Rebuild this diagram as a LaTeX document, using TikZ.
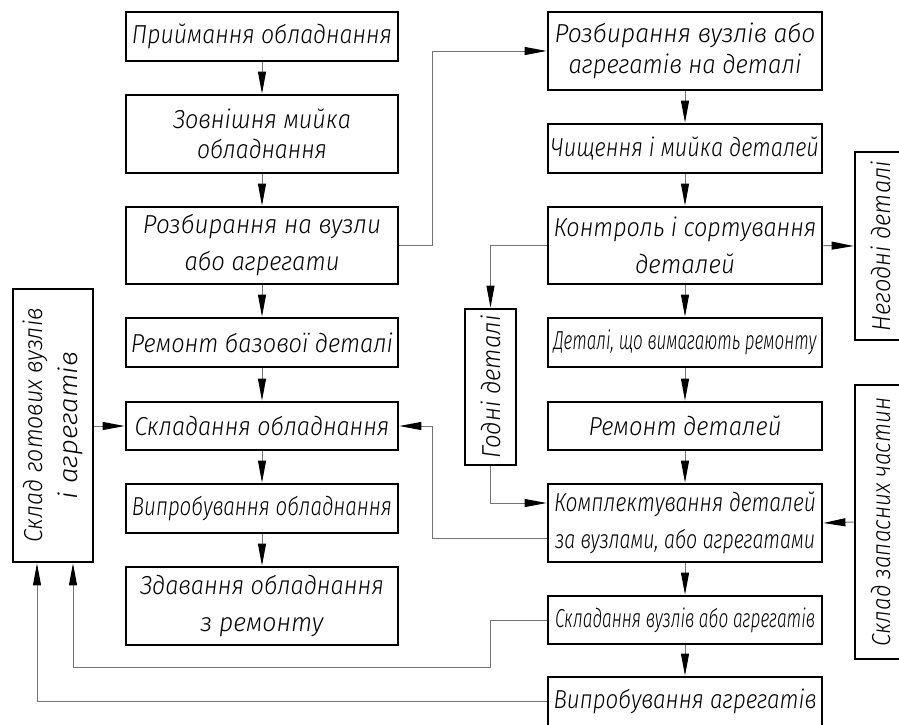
\documentclass[tikz,border=0pt]{standalone}
\usepackage{fontspec}
\usepackage{graphicx}
\newfontfamily\gost{Fira Sans Light Italic}
\usetikzlibrary{arrows.meta}
\newcommand\tw[2]{\resizebox{#1pt}{\height}{#2}}
\begin{document}
\begin{tikzpicture}[x=1pt,y=-1pt,
  box/.style={draw=black, line width=2.8pt, inner sep=0pt, align=center,
    font=\gost\fontsize{26}{37}\selectfont, minimum height=49pt},
  lbox/.style={box, minimum width=272pt},
  rbox/.style={box, minimum width=274pt},
  conn/.style={draw=black!55, line width=1pt, -{Triangle[length=22pt,width=8pt,color=black]}}]
\useasboundingbox (0,0) rectangle (899,724);
\clip (0,0) rectangle (899,724);
% left column
\node[lbox] (L1) at (262,36.5) {\tw{260}{Приймання обладнання}};
\node[lbox, minimum height=78pt, font=\gost\fontsize{26}{30}\selectfont] (L2) at (262,134) {\tw{178}{Зовнішня мийка}\\\tw{130}{обладнання}};
\node[lbox, minimum height=77pt] (L3) at (262,245.5) {\tw{238}{Розбирання на вузли}\\\tw{155}{або агрегати}};
\node[lbox] (L4) at (262,342.5) {\tw{262}{Ремонт базової деталі}};
\node[lbox, minimum height=48pt] (L5) at (262,426) {\tw{255}{Складання обладнання}};
\node[lbox] (L6) at (262,508.5) {\tw{260}{Випробування обладнання}};
\node[lbox, minimum height=78pt] (L7) at (262,606) {\tw{244}{Здавання обладнання}\\\tw{123}{з ремонту}};
% right column
\node[rbox, minimum height=78pt, font=\gost\fontsize{26}{31}\selectfont] (R1) at (685,51) {\tw{261}{Розбирання вузлів або}\\\tw{233}{агрегатів на деталі}};
\node[rbox] (R2) at (685,148.5) {\tw{268}{Чищення і мийка деталей}};
\node[rbox, minimum height=77pt] (R3) at (685,245.5) {\tw{263}{Контроль і сортування}\\\tw{100}{деталей}};
\node[rbox] (R4) at (685,342.5) {\tw{263}{Деталі, що вимагають ремонту}};
\node[rbox, minimum height=48pt] (R5) at (685,426) {\tw{193}{Ремонт деталей}};
\node[rbox, minimum height=78pt] (R6) at (685,523) {\tw{262}{Комплектування деталей}\\\tw{260}{за вузлами, або агрегатами}};
\node[rbox, minimum height=48pt] (R7) at (685,620) {\tw{260}{Складання вузлів або агрегатів}};
\node[rbox] (R8) at (685,701.5) {\tw{263}{Випробування агрегатів}};
% side boxes
\node[box, rotate=90, minimum width=273pt, minimum height=80pt, font=\gost\fontsize{26}{35}\selectfont] (S1) at (53,425.5) {\tw{234}{Склад готових вузлів}\\\tw{147}{і агрегатів}};
\node[box, rotate=90, minimum width=156pt, minimum height=51pt] (God) at (490.5,387) {\tw{143}{Годні деталі}};
\node[box, rotate=90, minimum width=188pt, minimum height=51pt] (Neg) at (880.5,246) {\tw{170}{Негодні деталі}};
\node[box, rotate=90, minimum width=274pt, minimum height=51pt] (Zap) at (880.5,522) {\tw{249}{Склад запасних частин}};
% column connectors
\foreach \a/\b in {L1/L2,L2/L3,L3/L4,L4/L5,L5/L6,L6/L7,R1/R2,R2/R3,R3/R4,R4/R5,R5/R6,R6/R7,R7/R8}
  \draw[conn] (\a.south) -- (\b.north);
% other connectors
\coordinate (b1) at (432,245.5);
\draw[conn] (L3.east) -- (b1) |- (R1.west);
\draw[conn] (R3.east) -- (Neg.north);
\draw[conn] (R3.west) -| (God.east);
\coordinate (g1) at (490.5,503);
\draw[conn] (God.west) -- (g1) -- (g1 -| R6.west);
\coordinate (k1) at (432,538);
\draw[conn] (k1 -| R6.west) -- (k1) |- (L5.east);
\draw[conn] (S1.south |- L5.west) -- (L5.west);
\draw[conn] (Zap.north) -- (R6.east);
\coordinate (d1) at (490.5,667);
\coordinate (d2) at (73,667);
\draw[conn] (R7.west) -| (d1) -- (d2) -- (d2 |- S1.west);
\coordinate (e1) at (37,701.5);
\draw[conn] (R8.west) -- (e1) -- (e1 |- S1.west);
\end{tikzpicture}
\end{document}
